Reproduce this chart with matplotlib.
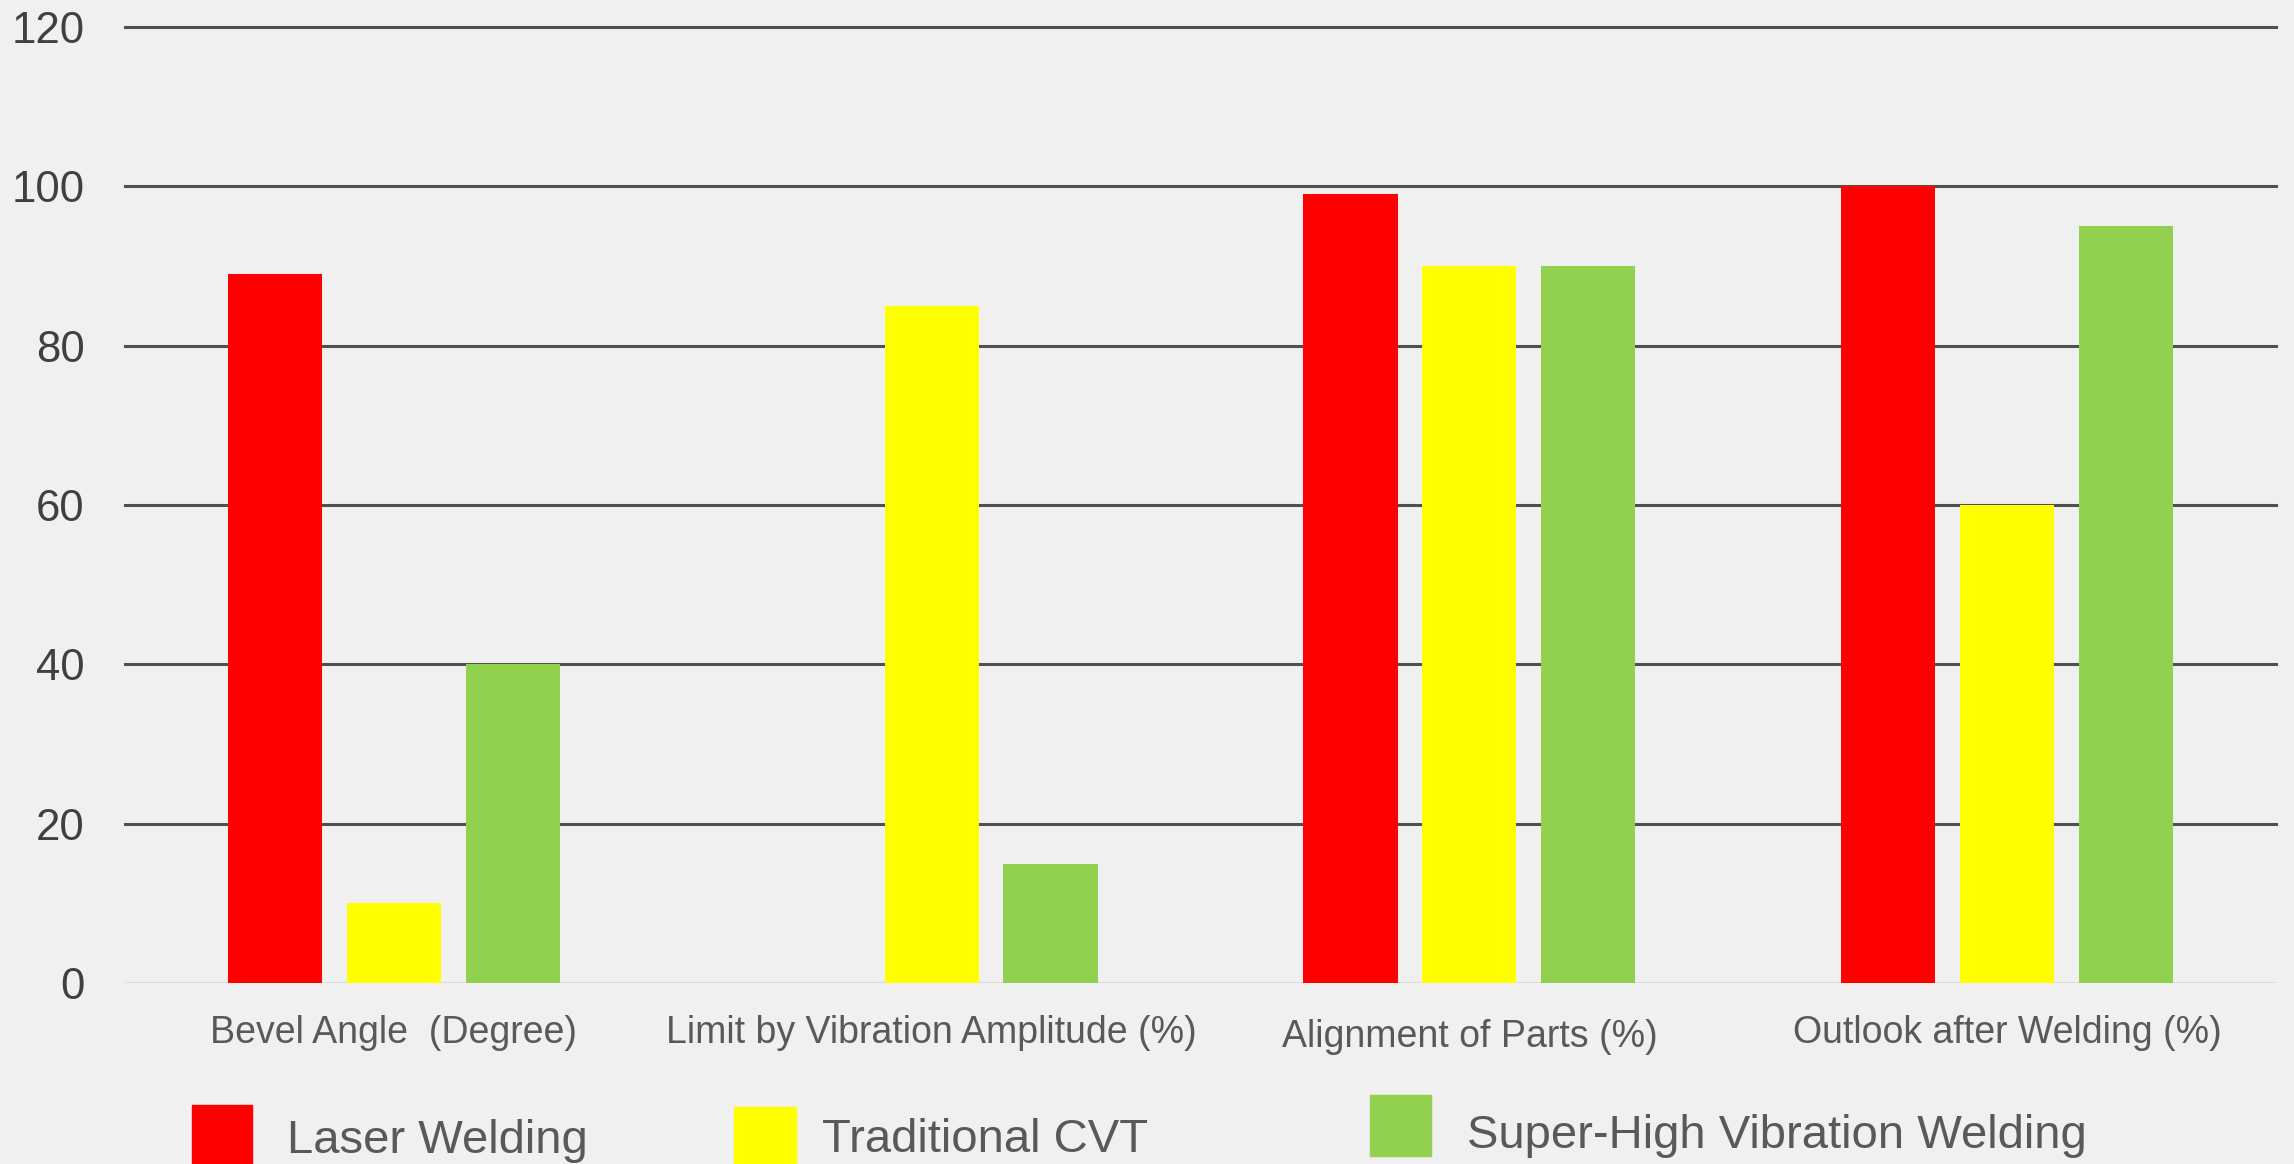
import numpy as np
import matplotlib
matplotlib.use("Agg")
import matplotlib.pyplot as plt
from matplotlib.patches import Rectangle
from matplotlib.transforms import ScaledTranslation

plt.rcParams['font.family'] = ['Liberation Sans', 'DejaVu Sans']

# datos
categorias = ["Bevel Angle  (Degree)", "Limit by Vibration Amplitude (%)",
              "Alignment of Parts (%)", "Outlook after Welding (%)"]
series = ["Laser Welding", "Traditional CVT", "Super-High Vibration Welding"]
laser = [89, 0, 99, 100]
cvt = [10, 85, 90, 60]
vibracion = [40, 15, 90, 95]
colores = ["#ff0000", "#ffff00", "#92d050"]
yticks = [0, 20, 40, 60, 80, 100, 120]

W, H = 2294, 1164
fondo = "#f0f0f0"

fig = plt.figure(figsize=(W / 100, H / 100), dpi=100, facecolor=fondo)
ax = fig.add_axes([125 / W, 1 - 983 / H, (2276 - 125) / W, (983 - 27) / H])
ax.set_facecolor(fondo)

x = np.arange(len(categorias))
ancho = 0.175
paso = 0.221
for i, (vals, col) in enumerate(zip([laser, cvt, vibracion], colores)):
    ax.bar(x + (i - 1) * paso, vals, ancho, color=col, zorder=3)

ax.set_xlim(-0.5, len(categorias) - 0.5)
ax.set_ylim(0, 120)
ax.set_yticks(yticks)
ax.set_yticklabels([str(v) for v in yticks])
ax.set_xticks(x)
ax.set_xticklabels(categorias)

# rejilla horizontal
for v in yticks[1:]:
    ax.axhline(v, color="#505050", lw=2.2, zorder=1, clip_on=False)
ax.axhline(0, color="#dcdcdc", lw=2.2, zorder=2)

for s in ax.spines.values():
    s.set_visible(False)
ax.tick_params(axis="y", length=0, pad=29, labelsize=31.5, labelcolor="#404040")
ax.tick_params(axis="x", length=0, pad=23, labelsize=27, labelcolor="#595959")

# la tercera etiqueta va un poco mas baja
lab = ax.get_xticklabels()[2]
lab.set_transform(lab.get_transform() + ScaledTranslation(0, -0.04, fig.dpi_scale_trans))

# leyenda a mano
cuadros = [(192, 1105, 60, 70), (734, 1107, 62, 70), (1370, 1095, 61, 61)]
textos_x = [287, 822, 1467]
textos_y = [1141, 1140, 1136]
for (cx, cy, cw, ch), tx, ty, nombre, col in zip(cuadros, textos_x, textos_y, series, colores):
    fig.add_artist(Rectangle((cx / W, 1 - (cy + ch) / H), cw / W, ch / H,
                             transform=fig.transFigure, color=col))
    fig.text(tx / W, 1 - ty / H, nombre, fontsize=34, color="#595959",
             ha="left", va="center")

fig.savefig("out.png", dpi=100, facecolor=fondo)
